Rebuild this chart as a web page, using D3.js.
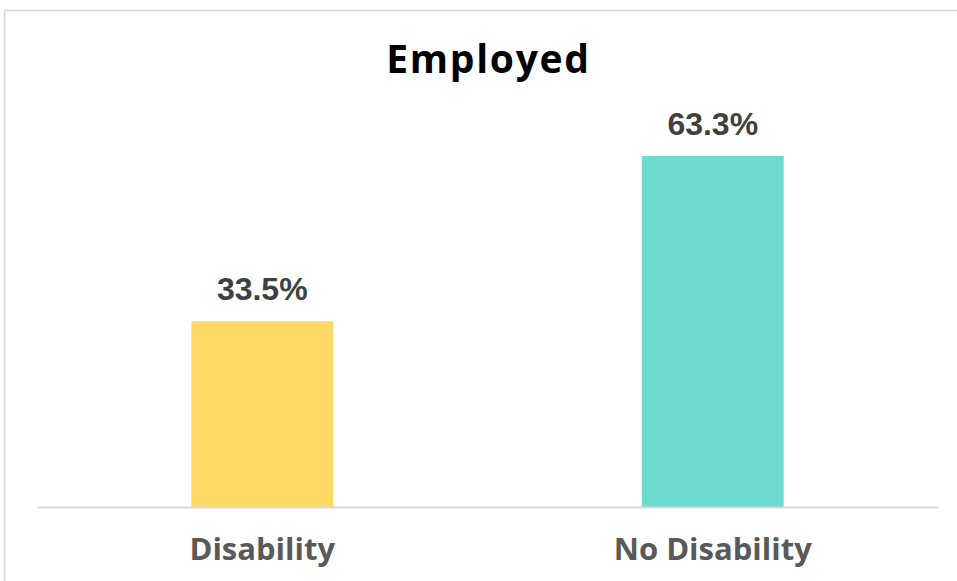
<!DOCTYPE html>
<html>
<head>
<meta charset="utf-8">
<script src="https://cdn.jsdelivr.net/npm/d3@7"></script>
<style>
  html, body { margin: 0; padding: 0; background: #fff; }
  svg { display: block; }
</style>
</head>
<body>
<svg id="chart" width="957" height="581"></svg>
<script>
const categories = ["Disability", "No Disability"];
const values = [33.5, 63.3];
const colors = ["#FFD966", "#6DDCCF"];
const title = "Employed";

const svg = d3.select("#chart");
const font = "'Open Sans', Lato, sans-serif";

svg.append("rect")
  .attr("x", 4.5).attr("y", 10.5)
  .attr("width", 980).attr("height", 620)
  .attr("fill", "#fff")
  .attr("stroke", "#d9d9d9").attr("stroke-width", 1.5);

const plot = { left: 37, right: 938, bottom: 507 };

const x = d3.scaleBand()
  .domain(categories)
  .range([plot.left, plot.right])
  .paddingInner(0.685)
  .paddingOuter(0.3425);

const y = d3.scaleLinear()
  .domain([0, 70])
  .range([plot.bottom, plot.bottom - 70 * 5.545]);

svg.append("g")
  .selectAll("rect")
  .data(categories)
  .join("rect")
  .attr("x", d => x(d))
  .attr("y", (d, i) => y(values[i]))
  .attr("width", x.bandwidth())
  .attr("height", (d, i) => y(0) - y(values[i]))
  .attr("fill", (d, i) => colors[i]);

const axis = svg.append("g")
  .attr("transform", `translate(0,${plot.bottom})`)
  .call(d3.axisBottom(x).tickSize(0).tickPadding(0));
axis.select(".domain").attr("stroke", "#d9d9d9").attr("stroke-width", 2);
axis.selectAll(".tick text")
  .attr("dy", 0)
  .attr("y", 53)
  .attr("font-family", font)
  .attr("font-weight", 700)
  .attr("font-size", 31)
  .attr("fill", "#595959");

svg.append("g")
  .selectAll("text")
  .data(categories)
  .join("text")
  .attr("x", d => x(d) + x.bandwidth() / 2)
  .attr("y", (d, i) => y(values[i]) - 21)
  .attr("text-anchor", "middle")
  .attr("font-family", "'Liberation Sans', Arial, sans-serif")
  .attr("font-weight", 700)
  .attr("font-size", 32)
  .attr("fill", "#404040")
  .text((d, i) => values[i].toFixed(1) + "%");

svg.append("text")
  .attr("x", 488.5)
  .attr("y", 73)
  .attr("text-anchor", "middle")
  .attr("font-family", font)
  .attr("font-weight", 700)
  .attr("font-size", 39)
  .attr("letter-spacing", 1.7)
  .attr("fill", "#000")
  .text(title);
</script>
</body>
</html>
